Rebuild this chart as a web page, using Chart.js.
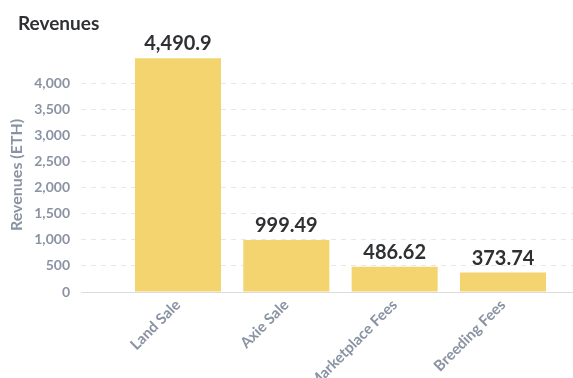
<!DOCTYPE html>
<html>
<head>
<meta charset="utf-8">
<script src="https://cdn.jsdelivr.net/npm/chart.js@4/dist/chart.umd.min.js"></script>
<style>
  html, body { margin: 0; padding: 0; background: #fff; }
  #wrap { width: 573px; height: 378px; position: relative; }
</style>
</head>
<body>
<div id="wrap"><canvas id="revChart"></canvas></div>
<script>
const categories = ['Land Sale', 'Axie Sale', 'Marketplace Fees', 'Breeding Fees'];
const revenues = [4490.9, 999.49, 486.62, 373.74];
const yTicks = [0, 500, 1000, 1500, 2000, 2500, 3000, 3500, 4000];

const tickGray = '#8a93a3';
const fontFam = 'Lato, "Open Sans", sans-serif';

// value labels above each bar
const valueLabels = {
  id: 'valueLabels',
  afterDatasetsDraw(chart) {
    const ctx = chart.ctx;
    const meta = chart.getDatasetMeta(0);
    ctx.save();
    ctx.font = 'bold 20px ' + fontFam;
    ctx.fillStyle = '#2f3033';
    ctx.textAlign = 'center';
    ctx.textBaseline = 'alphabetic';
    meta.data.forEach((bar, i) => {
      const txt = revenues[i].toLocaleString('en-US', { maximumFractionDigits: 2 });
      ctx.fillText(txt, bar.x, bar.y - 8);
    });
    ctx.restore();
  }
};

new Chart(document.getElementById('revChart'), {
  type: 'bar',
  data: {
    datasets: [{
      data: revenues.map((v, i) => ({ x: i, y: v })),
      backgroundColor: '#f3d46f',
      borderWidth: 0,
      categoryPercentage: 1,
      barPercentage: 0.794
    }]
  },
  options: {
    responsive: true,
    maintainAspectRatio: false,
    animation: false,
    devicePixelRatio: 1,
    layout: { padding: { top: 2, left: 18, right: 0, bottom: 0 } },
    plugins: {
      legend: { display: false },
      tooltip: { enabled: false },
      title: {
        display: true,
        text: 'Revenues',
        align: 'start',
        color: '#2f3033',
        font: { family: fontFam, size: 19, weight: 'bold' },
        padding: { top: 10, bottom: 23 }
      }
    },
    scales: {
      x: {
        type: 'linear',
        offset: false,
        min: -0.895,
        max: 3.646,
        grid: { display: false, drawTicks: false },
        border: { display: true, color: '#dcdcdc', width: 1 },
        afterBuildTicks(scale) {
          scale.ticks = categories.map((c, i) => ({ value: i }));
        },
        afterFit(scale) { scale.height = 86; },
        ticks: {
          autoSkip: false,
          minRotation: 45,
          maxRotation: 45,
          padding: 4,
          color: tickGray,
          font: { family: fontFam, size: 15, weight: 'bold' },
          callback: (v) => categories[v]
        }
      },
      y: {
        min: 0,
        max: 4500,
        afterBuildTicks(scale) {
          scale.ticks = yTicks.map(v => ({ value: v }));
        },
        afterFit(scale) { scale.width = 63; },
        grid: {
          color: '#e6e6e6',
          drawTicks: false,
          lineWidth: 1
        },
        border: { display: false, dash: [5, 5] },
        ticks: {
          padding: 11,
          color: tickGray,
          font: { family: fontFam, size: 14, weight: 'bold' },
          callback: (v) => v.toLocaleString('en-US')
        },
        title: {
          display: true,
          text: 'Revenues (ETH)',
          color: tickGray,
          font: { family: fontFam, size: 16, weight: 'bold' },
          padding: { top: -11, bottom: 0 }
        }
      }
    }
  },
  plugins: [valueLabels]
});
</script>
</body>
</html>
